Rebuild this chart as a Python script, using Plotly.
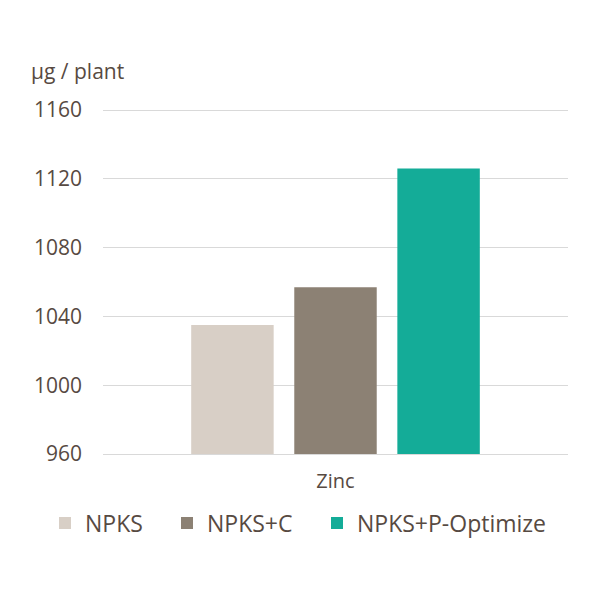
import plotly.graph_objects as go

categories = ["Zinc"]
series_names = ["NPKS", "NPKS+C", "NPKS+P-Optimize"]
series_values = [[1035], [1057], [1126]]
colors = ["#d8cfc6", "#8c8174", "#14ac98"]
y_ticks = [960, 1000, 1040, 1080, 1120, 1160]

text_color = "#574a42"
font_family = "'Open Sans', sans-serif"

L, R, T, B = 103, 32, 109, 146
PW, PH = 600 - L - R, 600 - T - B

legend_ids = ["legend", "legend2", "legend3"]
legend_px = [45, 167, 317]  # left edges of each legend entry (px)

fig = go.Figure()
for name, vals, col, lid in zip(series_names, series_values, colors, legend_ids):
    fig.add_trace(go.Bar(x=categories, y=vals, name=name, marker_color=col,
                         marker_line_width=0, legend=lid))

legend_common = dict(orientation="h", xanchor="left", yanchor="middle",
                     y=(454 - 523) / PH, font=dict(size=23, color=text_color),
                     bgcolor="rgba(0,0,0,0)")
layout_legends = {lid: dict(legend_common, x=(px - L) / PW)
                  for lid, px in zip(legend_ids, legend_px)}

fig.update_layout(
    width=600, height=600,
    paper_bgcolor="white", plot_bgcolor="white",
    margin=dict(l=L, r=R, t=T, b=B),
    barmode="group", bargap=0.335, bargroupgap=0.2,
    font=dict(family=font_family, color=text_color),
    showlegend=True,
    annotations=[dict(text="μg / plant", x=(29 - L) / PW, xanchor="left",
                      y=(454 - 71) / PH, yanchor="middle",
                      xref="paper", yref="paper", showarrow=False,
                      font=dict(size=21, color=text_color))],
    **layout_legends,
)

fig.update_yaxes(range=[960, 1160.6], tickvals=y_ticks, showgrid=True,
                 gridcolor="#d9d9d9", gridwidth=1, zeroline=False, showline=False,
                 ticks="", tickfont=dict(size=21, color=text_color), ticklabelstandoff=20)
fig.update_xaxes(showgrid=False, showline=True, linecolor="#d9d9d9", linewidth=1,
                 ticks="", tickfont=dict(size=20, color=text_color), ticklabelstandoff=9)

fig.write_html("out.html")
